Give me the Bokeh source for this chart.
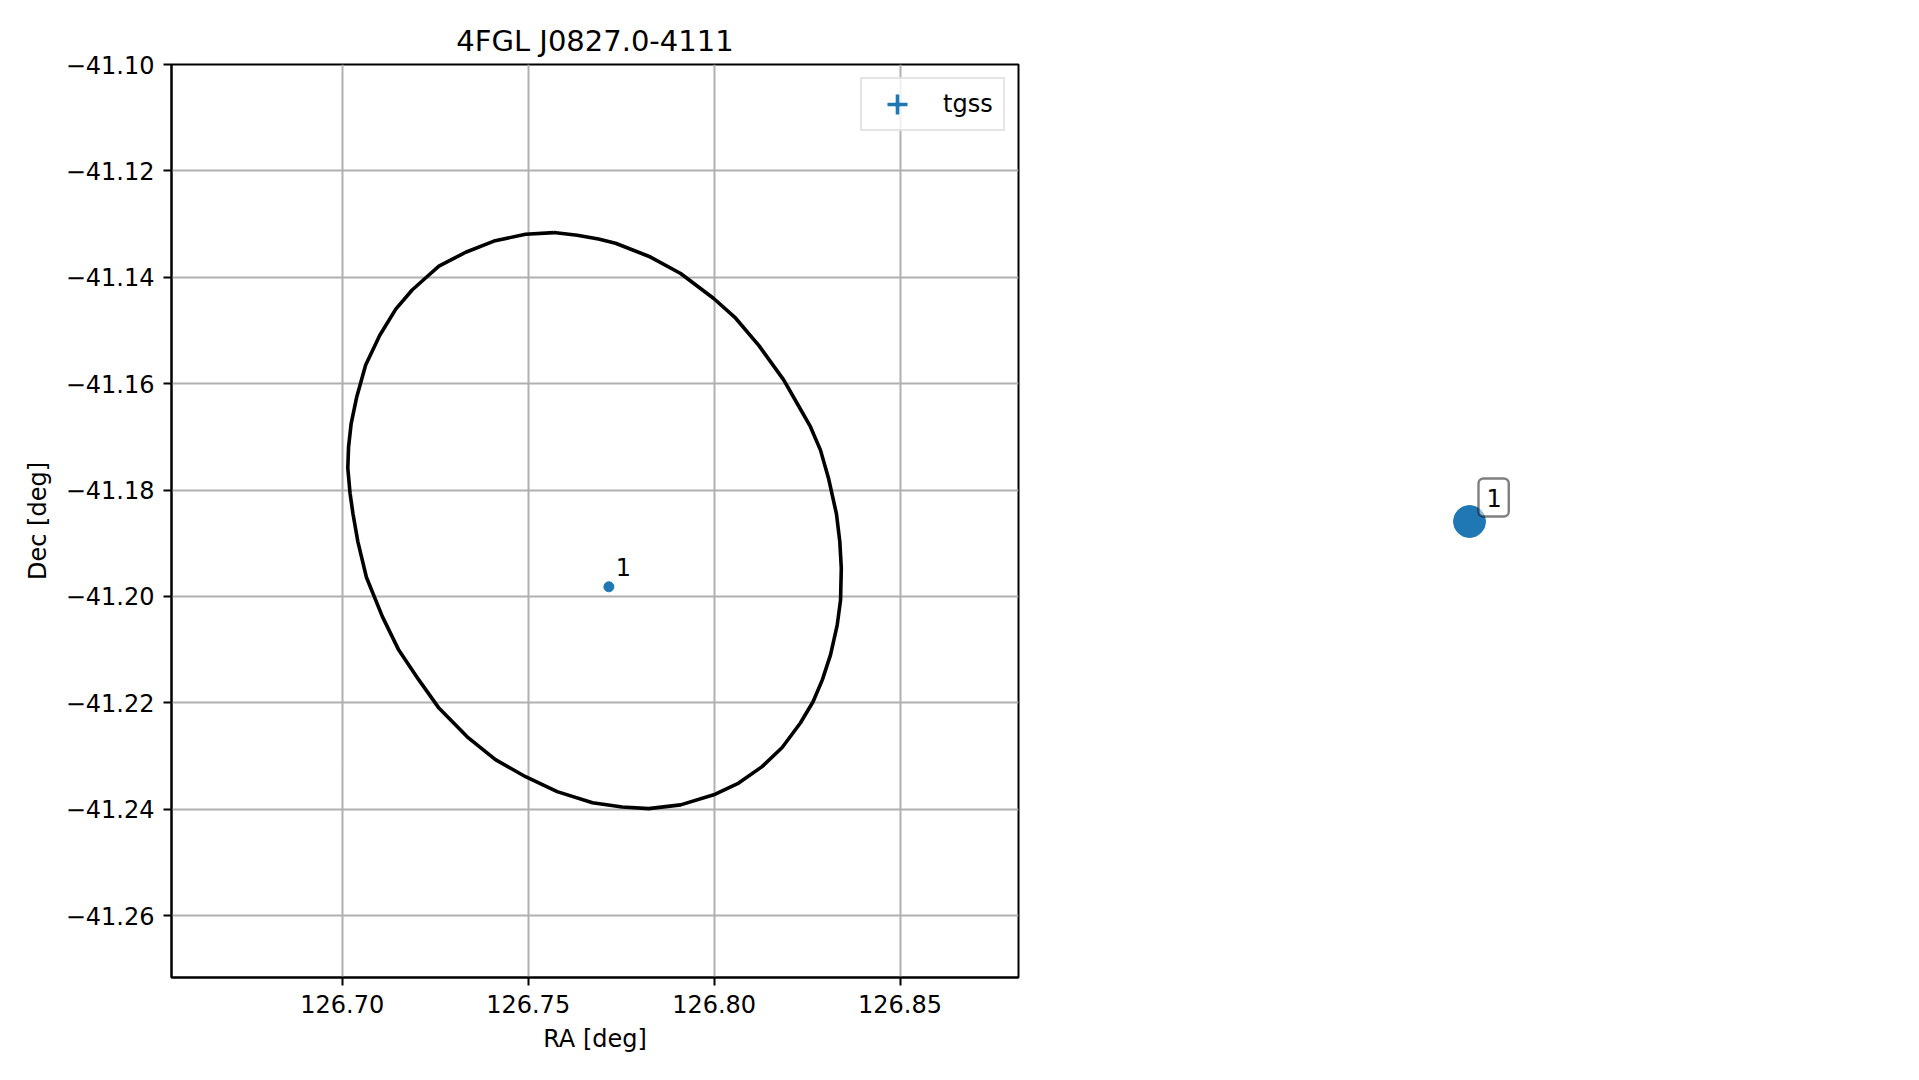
from bokeh.plotting import figure
from bokeh.layouts import row
from bokeh.models import (Range1d, Legend, LegendItem, FixedTicker,
                          ColumnDataSource, CustomJSTickFormatter)
from bokeh.embed import file_html
from bokeh.resources import INLINE
from bokeh.core.properties import value

# ---------------- data ----------------
title_text = "4FGL J0827.0-4111"
x_label = "RA [deg]"
y_label = "Dec [deg]"
legend_label = "tgss"

# 95% error ellipse outline
ell_ra = [126.7569, 126.7632, 126.7689, 126.7735, 126.7829, 126.7910, 126.7999,
          126.8058, 126.8120, 126.8187, 126.8228, 126.8259, 126.8286, 126.8308,
          126.8329, 126.8338, 126.8342, 126.8340, 126.8331, 126.8313, 126.8291,
          126.8266, 126.8232, 126.8183, 126.8129, 126.8066, 126.7999, 126.7910,
          126.7824, 126.7753, 126.7673, 126.7578, 126.7493, 126.7412, 126.7336,
          126.7260, 126.7206, 126.7152, 126.7108, 126.7065, 126.7042, 126.7029,
          126.7021, 126.7015, 126.7017, 126.7024, 126.7039, 126.7063, 126.7101,
          126.7144, 126.7188, 126.7215, 126.7260, 126.7332, 126.7408, 126.7493,
          126.7569]
ell_dec = [-41.1316, -41.1321, -41.1328, -41.1336, -41.1362, -41.1393, -41.1440,
           -41.1477, -41.1528, -41.1593, -41.1643, -41.1681, -41.1725, -41.1779,
           -41.1845, -41.1897, -41.1947, -41.2007, -41.2054, -41.2110, -41.2157,
           -41.2198, -41.2238, -41.2284, -41.2320, -41.2351, -41.2373, -41.2392,
           -41.2399, -41.2396, -41.2388, -41.2367, -41.2339, -41.2307, -41.2264,
           -41.2210, -41.2157, -41.2101, -41.2038, -41.1964, -41.1897, -41.1845,
           -41.1806, -41.1759, -41.1719, -41.1675, -41.1625, -41.1565, -41.1509,
           -41.1460, -41.1424, -41.1407, -41.1379, -41.1353, -41.1332, -41.1319,
           -41.1316]

src_ra = [126.7717]
src_dec = [-41.1982]
src_label = ["1"]

x_ticks = [126.70, 126.75, 126.80, 126.85]
y_ticks = [-41.10, -41.12, -41.14, -41.16, -41.18, -41.20, -41.22, -41.24, -41.26]

BLUE = "#1f77b4"
FONT = "DejaVu Sans"

# ---------------- main panel ----------------
H = 1075
TOP, FRAME_H = 64, 913
p = figure(width=1030, height=H, output_backend="svg", toolbar_location=None,
           x_range=Range1d(126.65409, 126.88185), y_range=Range1d(-41.27165, -41.10),
           min_border_left=171, min_border_top=TOP, min_border_bottom=H - TOP - FRAME_H,
           min_border_right=12)

p.title.text = title_text
p.title.align = "center"
p.title.text_font = FONT
p.title.text_font_size = "29px"
p.title.text_font_style = "normal"
p.title.text_color = "black"
p.title.standoff = 13

fmt = CustomJSTickFormatter(code="""
    const s = Math.abs(tick).toFixed(2);
    return (tick < 0 ? "\u2212" : "") + s;
""")

for ax, ticks, lab in ((p.xaxis[0], x_ticks, x_label), (p.yaxis[0], y_ticks, y_label)):
    ax.ticker = FixedTicker(ticks=ticks)
    ax.formatter = fmt
    ax.axis_label = lab
    ax.axis_label_text_font = FONT
    ax.axis_label_text_font_size = "24px"
    ax.axis_label_text_font_style = "normal"
    ax.axis_label_text_color = "black"
    ax.major_label_text_font = FONT
    ax.major_label_text_font_size = "24px"
    ax.major_label_text_color = "black"
    ax.axis_line_width = 2
    ax.major_tick_line_width = 2
    ax.major_tick_out = 8
    ax.major_tick_in = 0
    ax.minor_tick_line_color = None
    ax.major_label_standoff = 9

p.xaxis[0].axis_label_standoff = 9
p.yaxis[0].axis_label_standoff = 11

p.grid.grid_line_color = "#b0b0b0"
p.grid.grid_line_width = 2
p.outline_line_color = "black"
p.outline_line_width = 2

p.line(ell_ra, ell_dec, line_color="black", line_width=3.6)

src = ColumnDataSource(dict(x=src_ra, y=src_dec, t=src_label))
# error-bar style handle (tiny error bars hidden under the marker)
r_cross = p.scatter("x", "y", source=src, marker="cross", line_color=BLUE,
                    line_width=3.6, size=6)
r_dot = p.scatter("x", "y", source=src, marker="dot", line_color=BLUE,
                  fill_color=BLUE, line_width=3, size=6)
p.scatter("x", "y", source=src, size=10, color=BLUE)
p.text("x", "y", text="t", source=src, x_offset=7, y_offset=-20,
       text_font=value(FONT), text_font_size="24px", text_color="black",
       text_align="left", text_baseline="alphabetic")

legend = Legend(items=[LegendItem(label=legend_label, renderers=[r_cross, r_dot])],
                location="top_right", glyph_width=70, glyph_height=50,
                padding=0, label_standoff=11, label_width=60, spacing=0,
                margin=13, border_line_color="#cccccc", border_line_width=2,
                background_fill_alpha=0.8, label_text_color="black",
                label_text_font=FONT, label_text_font_size="24px")
p.add_layout(legend)

# ---------------- right panel ----------------
# (its frame is aligned with the main frame by the row layout)
W2, H2 = 880, H
px_per_deg_x, px_per_deg_y = 3720.0, 5321.0
x0 = src_ra[0] - 439 / px_per_deg_x
y_end = src_dec[0] + (521 - TOP) / px_per_deg_y
p2 = figure(width=W2, height=H2, output_backend="svg", toolbar_location=None,
            title=None,
            x_range=Range1d(x0, x0 + W2 / px_per_deg_x),
            y_range=Range1d(y_end - FRAME_H / px_per_deg_y, y_end),
            x_axis_location=None, y_axis_location=None,
            min_border=0)
p2.outline_line_color = None
p2.grid.visible = False
p2.scatter("x", "y", source=src, size=32, color=BLUE)
p2.text("x", "y", text="t", source=src, x_offset=9, y_offset=-5,
        text_font=value(FONT), text_font_size="24px", text_color="black",
        text_align="left", text_baseline="bottom",
        background_fill_color="white", background_fill_alpha=0.5,
        border_line_color="black", border_line_alpha=0.5, border_line_width=2.4,
        padding=dict(left=8, right=7, top=10, bottom=10), border_radius=5)

layout = row(p, p2)
open("out.html", "w").write(file_html(layout, INLINE))
